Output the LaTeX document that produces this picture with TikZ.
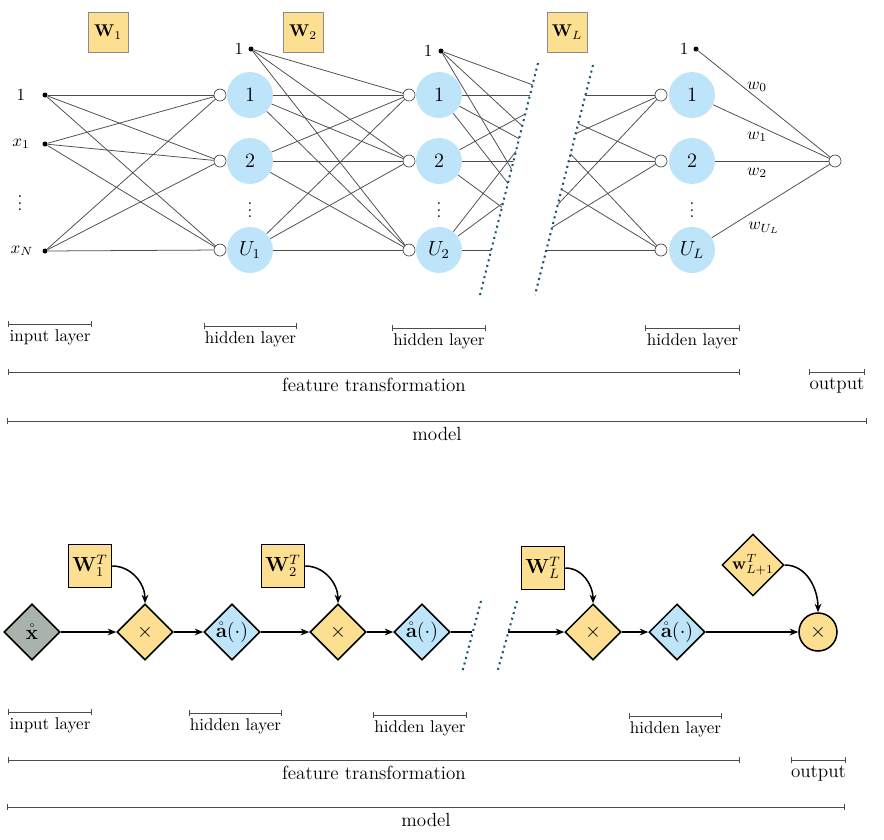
\documentclass[tikz,border=0pt]{standalone}
\usepackage{amsmath,amssymb}
\usepackage{tikz}
\usetikzlibrary{arrows.meta,shapes.geometric,positioning}
\definecolor{nnorange}{RGB}{253,223,145}
\definecolor{nnblue}{RGB}{190,228,250}
\definecolor{nngray}{RGB}{170,178,172}
\definecolor{nnteal}{RGB}{28,85,115}
\newlength{\px}
\setlength{\px}{0.588pt}
\tikzset{
  neuron/.style={circle,fill=nnblue,minimum size=46\px,inner sep=0pt,font=\large},
  port/.style={circle,draw=black!75,fill=white,minimum size=12\px,inner sep=0pt},
  bias/.style={circle,fill=black,minimum size=5\px,inner sep=0pt},
  wbox/.style={draw=black!45,fill=nnorange,minimum size=40\px,inner sep=0pt},
  tbox/.style={draw=black,line width=0.9pt,fill=nnorange,minimum size=43\px,inner sep=0pt,font=\large},
  opnode/.style={diamond,draw=black,line width=0.9pt,minimum size=56\px,inner sep=0pt,font=\large},
  conn/.style={black!70,line width=0.45pt},
  flow/.style={-{Stealth[length=5pt,width=4pt]},line width=0.9pt},
  breakline/.style={draw=nnteal,line width=1.2pt,dash pattern=on 1.2pt off 2.2pt},
  extent/.style={{Bar[width=3pt]}-{Bar[width=3pt]},draw=black!70,line width=0.5pt},
  biglabel/.style={below,font=\fontsize{11.2pt}{13pt}\selectfont}
}

\begin{document}
\begin{tikzpicture}[x=1\px,y=-1\px]
  \useasboundingbox (0,0) rectangle (884,839);
  % weight matrices
  \node[wbox] (W1) at (108,32) {$\mathbf{W}_1$};
  \node[wbox] (W2) at (303,32) {$\mathbf{W}_2$};
  \node[wbox] (WL) at (567,32) {$\mathbf{W}_L$};
  % input layer
  \node[bias] (i0) at (45,95) {};
  \node[bias] (i1) at (45,144) {};
  \node[bias] (iN) at (45,251) {};
  \node (li0) at (21,95) {$1$};
  \node (li1) at (21,144) {$x_1$};
  \node (liN) at (22,251) {$x_N$};
  \node (vi) at (20,198) {$\vdots$};
  % hidden layer 1
  \foreach \k/\y in {1/95,2/161,U/250}{
    \node[port] (p1\k) at (220,\y) {};
    \node[port] (p2\k) at (409,\y) {};
    \node[port] (pL\k) at (661,\y) {};
  }
  \node[neuron] (n11) at (250,95) {$1$};
  \node[neuron] (n12) at (250,161) {$2$};
  \node[neuron] (n1U) at (250,250) {$U_1$};
  \node (v1) at (250,205) {$\vdots$};
  \node[bias] (b1) at (251,49) {};
  \node (lb1) at (239,49) {$1$};
  % hidden layer 2
  \node[neuron] (n21) at (439,95) {$1$};
  \node[neuron] (n22) at (439,161) {$2$};
  \node[neuron] (n2U) at (439,250) {$U_2$};
  \node (v2) at (439,205) {$\vdots$};
  \node[bias] (b2) at (441,51) {};
  \node (lb2) at (428,51) {$1$};
  % hidden layer L
  \node[neuron] (nL1) at (692,95) {$1$};
  \node[neuron] (nL2) at (692,161) {$2$};
  \node[neuron] (nLU) at (692,250) {$U_L$};
  \node (vL) at (692,205) {$\vdots$};
  \node[bias] (bL) at (696,49) {};
  \node (lbL) at (684,49) {$1$};
  % output
  \node[port] (out) at (835,161) {};
  % connections
  \foreach \s in {i0,i1,iN}
    \foreach \t in {p11,p12,p1U}
      \draw[conn] (\s) -- (\t);
  \foreach \s in {b1,n11,n12,n1U}
    \foreach \t in {p21,p22,p2U}
      \draw[conn] (\s) -- (\t);
  % cut connections
  \coordinate (c1) at (560,95);
  \coordinate (c2) at (560,161);
  \coordinate (cU) at (560,250);
  \coordinate (d1) at (515,95);
  \coordinate (d2) at (515,161);
  \coordinate (dU) at (515,250);
  \begin{scope}
    \clip (400,0) -- (553.75,0) -- (478.75,300) -- (400,300) -- cycle;
    \foreach \s in {b2,n21,n22,n2U}
      \foreach \t in {c1,c2,cU}
        \draw[conn] (\s) -- (\t);
  \end{scope}
  \begin{scope}
    \clip (609.4,0) -- (700,0) -- (700,300) -- (533.7,300) -- cycle;
    \foreach \s in {d1,d2,dU}
      \foreach \t in {pL1,pL2,pLU}
        \draw[conn] (\s) -- (\t);
  \end{scope}
  \draw[breakline] (538,63) -- (480,295);
  \draw[breakline] (593,65) -- (535,295);
  \foreach \s in {bL,nL1,nL2,nLU}
    \draw[conn] (\s) -- (out);
  \node (w0) at (757,87) {$w_0$};
  \node (w1) at (757,137) {$w_1$};
  \node (w2) at (757,173) {$w_2$};
  \node (wU) at (764,228) {$w_{U_L}$};
  % layer extents (top)
  \draw[extent] (8,324) -- node[below] (t1) {input layer} (92,324);
  \draw[extent] (204,326) -- node[below] (t2) {hidden layer} (297,326);
  \draw[extent] (392,328) -- node[below] (t3) {hidden layer} (486,328);
  \draw[extent] (645,328) -- node[below] (t4) {hidden layer} (740,328);
  \draw[extent] (8,372) -- node[biglabel] (t5) {feature transformation} (740,372);
  \draw[extent] (809,372) -- node[biglabel] (t6) {output} (865,372);
  \draw[extent] (7,421) -- node[biglabel] (t7) {model} (867,421);

  % computational graph
  \node[opnode,fill=nngray] (x) at (32,632) {$\mathring{\mathbf{x}}$};
  \node[opnode,fill=nnorange] (m1) at (145,632) {$\times$};
  \node[opnode,fill=nnblue] (a1) at (232,632) {$\mathring{\mathbf{a}}(\cdot)$};
  \node[opnode,fill=nnorange] (m2) at (338,632) {$\times$};
  \node[opnode,fill=nnblue] (a2) at (422,632) {$\mathring{\mathbf{a}}(\cdot)$};
  \node[opnode,fill=nnorange] (mL) at (593,632) {$\times$};
  \node[opnode,fill=nnblue] (aL) at (677,632) {$\mathring{\mathbf{a}}(\cdot)$};
  \node[circle,draw=black,line width=0.9pt,fill=nnorange,minimum size=38\px,inner sep=0pt,font=\large] (mo) at (818,632) {$\times$};
  \node[tbox] (W1T) at (90,566) {$\mathbf{W}_1^T$};
  \node[tbox] (W2T) at (283,566) {$\mathbf{W}_2^T$};
  \node[tbox] (WLT) at (543,568) {$\mathbf{W}_L^T$};
  \node[opnode,fill=nnorange,font=\normalsize] (wT) at (753,565) {$\mathbf{w}_{L+1}^T$};
  \coordinate (e1) at (472,632);
  \coordinate (e2) at (508,632);
  \draw[flow] (x) -- (m1);
  \draw[flow] (m1) -- (a1);
  \draw[flow] (a1) -- (m2);
  \draw[flow] (m2) -- (a2);
  \draw[line width=0.9pt] (a2) -- (e1);
  \draw[flow] (e2) -- (mL);
  \draw[flow] (mL) -- (aL);
  \draw[flow] (aL) -- (mo);
  \draw[flow] (W1T.east) to[out=0,in=90] (m1.north);
  \draw[flow] (W2T.east) to[out=0,in=90] (m2.north);
  \draw[flow] (WLT.east) to[out=0,in=90] (mL.north);
  \draw[flow] (wT.east) to[out=0,in=90] (mo.north);
  \draw[breakline] (481,601) -- (462,673);
  \draw[breakline] (517,601) -- (497,673);
  % layer extents (bottom)
  \draw[extent] (8,712) -- node[below] (s1) {input layer} (92,712);
  \draw[extent] (189,713) -- node[below] (s2) {hidden layer} (282,713);
  \draw[extent] (373,715) -- node[below] (s3) {hidden layer} (467,715);
  \draw[extent] (629,716) -- node[below] (s4) {hidden layer} (722,716);
  \draw[extent] (8,760) -- node[biglabel] (s5) {feature transformation} (740,760);
  \draw[extent] (791,760) -- node[biglabel] (s6) {output} (846,760);
  \draw[extent] (7,807) -- node[biglabel] (s7) {model} (845,807);
\end{tikzpicture}
\end{document}
